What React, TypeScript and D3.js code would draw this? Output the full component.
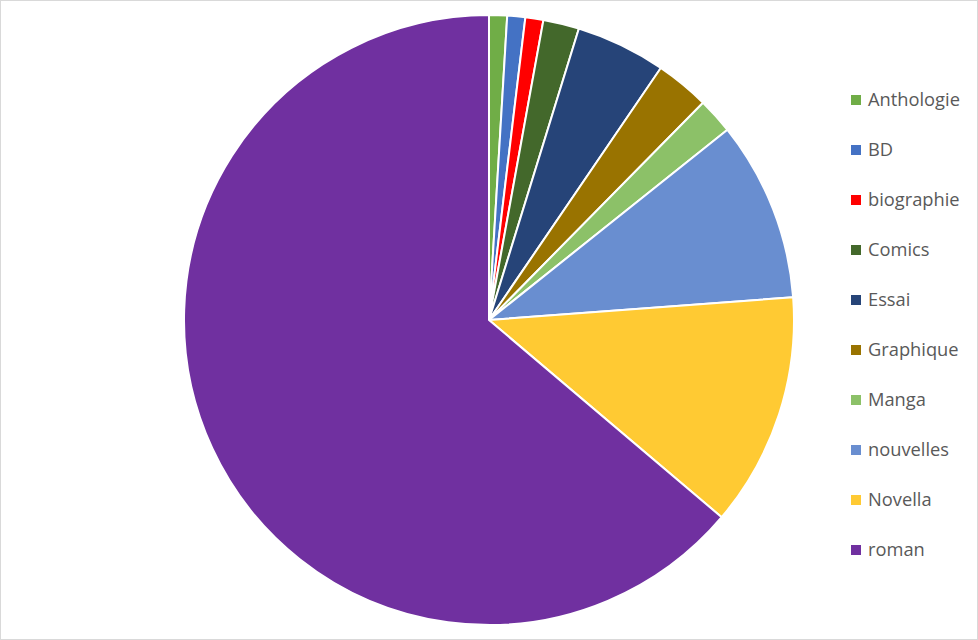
import React from "react";
import * as d3 from "d3";

const categories = ["Anthologie", "BD", "biographie", "Comics", "Essai", "Graphique", "Manga", "nouvelles", "Novella", "roman"];
const values = [1, 1, 1, 2, 5, 3, 2, 10, 13, 67];
const colors = ["#70AD47", "#4472C4", "#FF0000", "#43682B", "#264478", "#997300", "#8CC168", "#698ED0", "#FFCA33", "#7030A0"];

const W = 978;
const H = 640;

export default function App() {
  const cx = 489;
  const cy = 320;
  const r = 305;
  const data = categories.map((c, i) => ({ c, v: values[i], color: colors[i] }));
  const pie = d3.pie<any>().value((d) => d.v).sort(null);
  const arcs = pie(data);
  const arc = d3.arc<any>().innerRadius(0).outerRadius(r);
  const legendY = d3.scalePoint<string>().domain(categories).range([100, 550]);

  return (
    <svg width={W} height={H} style={{ position: "absolute", left: 0, top: 0 }}>
      <rect x={0.5} y={0.5} width={W - 1} height={H - 1} fill="#fff" stroke="#D9D9D9" />
      <g transform={`translate(${cx},${cy})`}>
        {arcs.map((a, i) => (
          <path key={i} d={arc(a) as string} fill={a.data.color} stroke="#fff" strokeWidth={2} strokeLinejoin="round" />
        ))}
      </g>
      <g>
        {categories.map((c, i) => (
          <g key={c} transform={`translate(851,${legendY(c)})`}>
            <rect x={0} y={-5} width={10} height={10} fill={colors[i]} />
            <text x={17} y={0} dy="0.35em" fontFamily="'Open Sans', sans-serif" fontSize={18.3} fill="#595959">
              {c}
            </text>
          </g>
        ))}
      </g>
    </svg>
  );
}
